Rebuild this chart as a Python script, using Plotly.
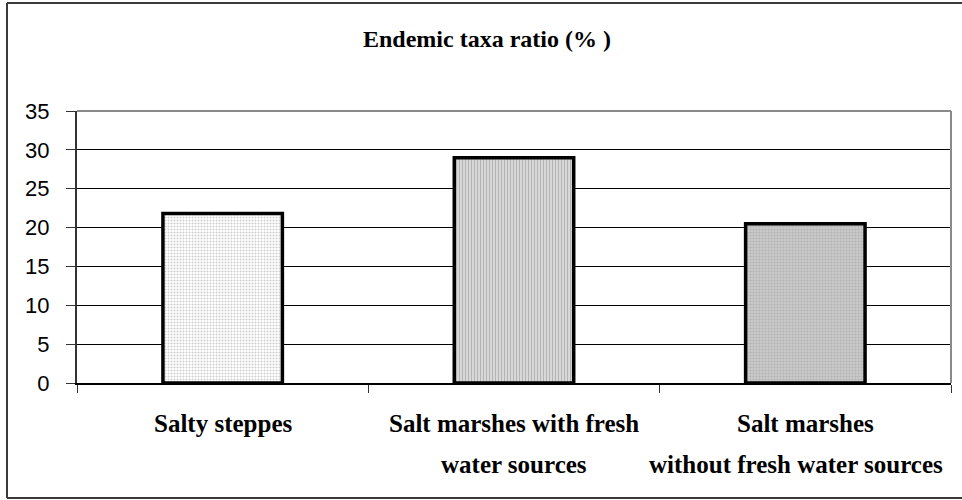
import plotly.graph_objects as go

# Endemic taxa ratio by habitat type
categories = ["Salty steppes",
              "Salt marshes with fresh water sources",
              "Salt marshes without fresh water sources"]
values = [21.8, 29.0, 20.5]
label_line1 = ["Salty steppes", "Salt marshes with fresh", "Salt marshes"]
label_line2 = ["", "water sources", "without fresh water sources"]
y_ticks = [0, 5, 10, 15, 20, 25, 30, 35]

# plot area in pixels (left, right, top, bottom)
L, R, T, B = 77, 951, 111, 383
W, H = 962, 500
pw, ph = R - L, B - T

def px_x(p):
    return (p - L) / pw

def px_y(p):
    return (B - p) / ph

serif = "Liberation Serif, Times New Roman, serif"
sans = "Liberation Sans, Arial, sans-serif"

patterns = [
    dict(shape=".", bgcolor="#ffffff", fgcolor="#9a9a9a", size=3, solidity=0.35),
    dict(shape="|", bgcolor="#dcdcdc", fgcolor="#8c8c8c", size=3, solidity=0.4),
    dict(shape=".", bgcolor="#cfcfcf", fgcolor="#9c9c9c", size=3, solidity=0.5),
]

fig = go.Figure()
for cat, val, pat in zip(categories, values, patterns):
    fig.add_trace(go.Bar(
        x=[cat], y=[val], width=0.41,
        marker=dict(color=pat["bgcolor"], pattern=pat,
                    line=dict(color="black", width=3.5)),
        showlegend=False, hoverinfo="skip",
    ))

annotations = [dict(
    text="<b>Endemic taxa ratio (% )</b>", xref="paper", yref="paper",
    x=px_x(487), y=px_y(39), xanchor="center", yanchor="middle",
    showarrow=False, font=dict(family=serif, size=24, color="black"),
)]
line2_shift = [0, 0, -9]
for cat, l1, l2, sh in zip(categories, label_line1, label_line2, line2_shift):
    annotations.append(dict(
        text="<b>" + l1 + "</b>", xref="x", yref="paper", x=cat,
        y=px_y(423), xanchor="center", yanchor="middle", showarrow=False,
        font=dict(family=serif, size=25, color="black"),
    ))
    if l2:
        annotations.append(dict(
            text="<b>" + l2 + "</b>", xref="x", yref="paper", x=cat,
            y=px_y(464), xanchor="center", yanchor="middle", showarrow=False,
            xshift=sh, font=dict(family=serif, size=25, color="black"),
        ))

frame = dict(color="#3a3a3a", width=2)
shapes = [
    # outer chart frame: left, top and bottom edges (right edge runs off the page)
    dict(type="line", xref="paper", yref="paper",
         x0=px_x(7), x1=px_x(7), y0=px_y(498), y1=px_y(3), line=frame, layer="below"),
    dict(type="line", xref="paper", yref="paper",
         x0=px_x(7), x1=px_x(962), y0=px_y(3), y1=px_y(3), line=frame, layer="below"),
    dict(type="line", xref="paper", yref="paper",
         x0=px_x(7), x1=px_x(962), y0=px_y(498), y1=px_y(498), line=frame, layer="below"),
    # plot-area border (top and right)
    dict(type="line", xref="paper", yref="paper",
         x0=0, x1=1, y0=1, y1=1, line=dict(color="#8a8a8a", width=2), layer="above"),
    dict(type="line", xref="paper", yref="paper",
         x0=1, x1=1, y0=0, y1=1, line=dict(color="#8a8a8a", width=2), layer="above"),
]

fig.update_layout(
    width=W, height=H,
    margin=dict(l=L, r=W - R, t=T, b=H - B, pad=0),
    paper_bgcolor="white", plot_bgcolor="white",
    bargap=0.59,
    annotations=annotations, shapes=shapes,
    xaxis=dict(
        type="category", categoryorder="array", categoryarray=categories,
        showticklabels=False, ticks="outside", tickson="boundaries",
        ticklen=8, tickcolor="#333333", tickwidth=1,
        showline=True, linecolor="black", linewidth=2,
        showgrid=False, zeroline=False, fixedrange=True,
    ),
    yaxis=dict(
        range=[0, 35], tickvals=y_ticks, ticktext=[str(v) for v in y_ticks],
        ticks="outside", ticklen=9, tickcolor="#333333", tickwidth=1,
        ticklabelstandoff=12,
        tickfont=dict(family=sans, size=22, color="black"),
        showline=True, linecolor="#333333", linewidth=2,
        showgrid=True, gridcolor="black", gridwidth=1,
        zeroline=False, fixedrange=True,
    ),
)

fig.write_html("out.html")
